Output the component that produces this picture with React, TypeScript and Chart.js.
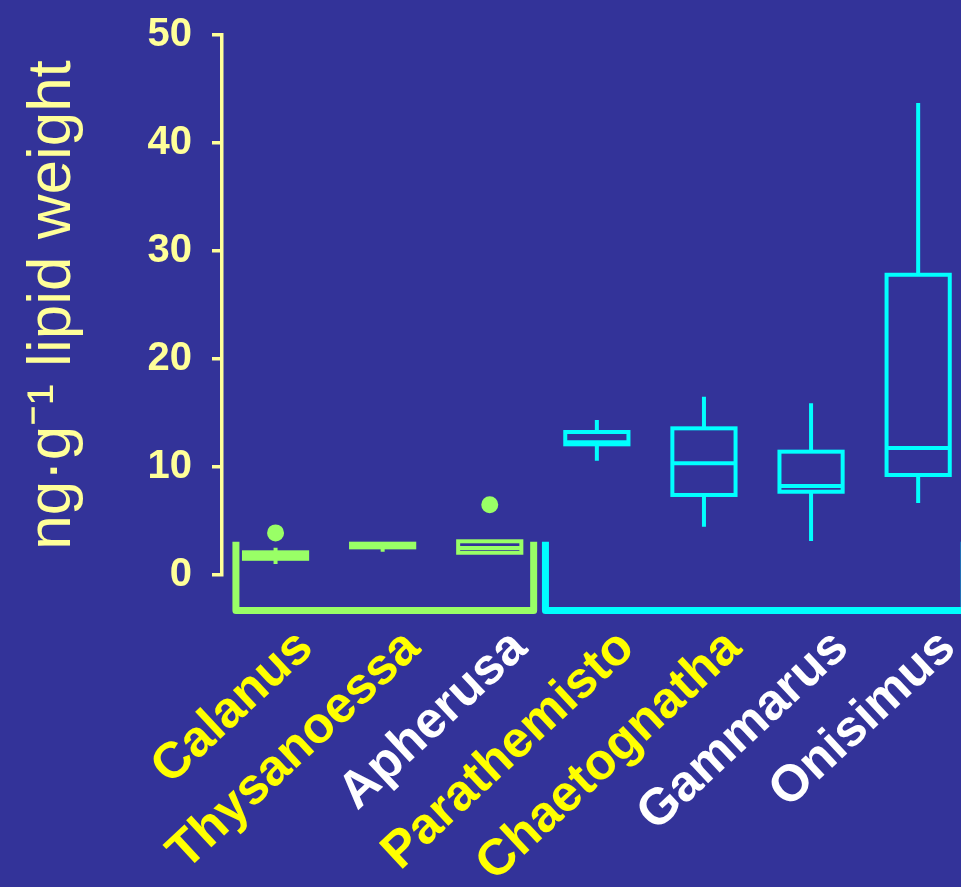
import React, { useEffect, useRef } from "react";
import { Chart, registerables } from "chart.js";

Chart.register(...registerables);

// ---- data ----
const categories = ["Calanus", "Thysanoessa", "Apherusa", "Parathemisto", "Chaetognatha", "Gammarus", "Onisimus"];
const whiskerMin = [1.02, 2.16, 2.0, 10.58, 4.47, 3.15, 6.67];
const q1 = [1.5, 2.56, 2.06, 12.1, 7.41, 7.71, 9.26];
const median = [1.8, 2.75, 2.5, 12.29, 10.34, 8.24, 11.76];
const q3 = [2.1, 2.9, 3.12, 13.24, 13.58, 11.42, 27.8];
const whiskerMax = [2.53, 3.0, 3.2, 14.35, 16.5, 15.9, 43.7];
const outlierCategory = [1, 3];
const outlierValue = [3.9, 6.5];
const yTicks = [0, 10, 20, 30, 40, 50];
const groupOf = [0, 0, 0, 1, 1, 1, 1];
// group brackets (in category units / value units)
const groupStart = [0.63, 3.52];
const groupEnd = [3.41, 7.43];
const bracketTop = 3.08;
const bracketBottom = -3.29;

// ---- styles ----
const BG = "#333399";
const AXIS = "#FFFF99";
const groupColors = ["#99FF66", "#00FFFF"];
const labelColors = ["#FFFF00", "#FFFF00", "#FFFFFF", "#FFFF00", "#FFFF00", "#FFFFFF", "#FFFFFF"];
const FONT = "'Liberation Sans', Arial, sans-serif";
const BOX_HALF = 0.295;

const boxPlugin = {
  id: "boxplots",
  afterDatasetsDraw(chart: any) {
    const { ctx, scales } = chart;
    const x = scales.x;
    const y = scales.y;
    ctx.save();
    ctx.lineCap = "butt";
    ctx.lineJoin = "miter";
    ctx.lineWidth = 4;
    categories.forEach((_, i) => {
      const v = i + 1;
      const xc = x.getPixelForValue(v);
      const xl = x.getPixelForValue(v - BOX_HALF);
      const xr = x.getPixelForValue(v + BOX_HALF);
      const pMin = y.getPixelForValue(whiskerMin[i]);
      const pQ1 = y.getPixelForValue(q1[i]);
      const pMed = y.getPixelForValue(median[i]);
      const pQ3 = y.getPixelForValue(q3[i]);
      const pMax = y.getPixelForValue(whiskerMax[i]);
      ctx.strokeStyle = groupColors[groupOf[i]];
      ctx.beginPath();
      ctx.moveTo(xc, pMax);
      ctx.lineTo(xc, pQ3);
      ctx.moveTo(xc, pQ1);
      ctx.lineTo(xc, pMin);
      ctx.stroke();
      ctx.strokeRect(xl, pQ3, xr - xl, pQ1 - pQ3);
      ctx.beginPath();
      ctx.moveTo(xl, pMed);
      ctx.lineTo(xr, pMed);
      ctx.stroke();
    });
    // group brackets
    ctx.lineWidth = 7;
    ctx.lineJoin = "round";
    ctx.lineCap = "butt";
    groupStart.forEach((s, g) => {
      const xl = x.getPixelForValue(s);
      const xr = x.getPixelForValue(groupEnd[g]);
      const yt = y.getPixelForValue(bracketTop);
      const yb = y.getPixelForValue(bracketBottom);
      ctx.strokeStyle = groupColors[g];
      ctx.beginPath();
      ctx.moveTo(xl, yt);
      ctx.lineTo(xl, yb);
      ctx.lineTo(xr, yb);
      ctx.lineTo(xr, yt);
      ctx.stroke();
    });
    ctx.restore();
  },
};

export default function App() {
  const canvasRef = useRef<HTMLCanvasElement | null>(null);

  useEffect(() => {
    if (!canvasRef.current) return;
    const chart = new Chart(canvasRef.current, {
      type: "scatter",
      data: {
        datasets: [
          {
            data: outlierCategory.map((c, i) => ({ x: c, y: outlierValue[i] })),
            pointRadius: 8.5,
            pointBackgroundColor: groupColors[0],
            pointBorderWidth: 0,
            pointHoverRadius: 8.5,
          },
        ],
      },
      plugins: [boxPlugin],
      options: {
        responsive: false,
        animation: false,
        events: [],
        layout: { autoPadding: false, padding: { top: 35, left: 0, right: 0, bottom: 0 } },
        plugins: { legend: { display: false }, tooltip: { enabled: false } },
        scales: {
          x: {
            type: "linear",
            min: 0.5,
            max: 7.4,
            afterBuildTicks: (s: any) => {
              s.ticks = categories.map((_, i) => ({ value: i + 1 }));
            },
            afterFit: (s: any) => {
              s.height = 312;
              s.paddingLeft = 0;
              s.paddingRight = 0;
              s.paddingTop = 0;
              s.paddingBottom = 0;
            },
            grid: { display: false },
            border: { display: false },
            ticks: {
              autoSkip: false,
              minRotation: 43,
              maxRotation: 43,
              padding: 33,
              labelOffset: 30,
              font: { family: FONT, size: 51, weight: "bold", lineHeight: 1.3 },
              color: (c: any) => labelColors[c.index] || "#FFFFFF",
              callback: (val: any) => categories[Math.round(Number(val)) - 1] ?? "",
            },
          },
          y: {
            type: "linear",
            min: 0,
            max: 50,
            afterBuildTicks: (s: any) => {
              s.ticks = yTicks.map((v) => ({ value: v }));
            },
            afterFit: (s: any) => {
              s.width = 222;
              s.paddingTop = 0;
              s.paddingBottom = 0;
              s.paddingLeft = 0;
              s.paddingRight = 0;
            },
            grid: {
              drawOnChartArea: false,
              drawTicks: true,
              tickLength: 10,
              color: AXIS,
              lineWidth: 3.5,
            },
            border: { display: true, color: AXIS, width: 3.5 },
            ticks: {
              padding: 20,
              color: AXIS,
              font: { family: FONT, size: 40, weight: "bold" },
            },
            title: {
              display: true,
              text: "ng·g⁻¹ lipid weight",
              color: AXIS,
              font: { family: FONT, size: 62, weight: "normal", lineHeight: 1 },
              padding: { top: 22, bottom: 0 },
            },
          },
        },
      },
    });
    return () => chart.destroy();
  }, []);

  return (
    <div
      style={{
        position: "fixed",
        left: 0,
        top: 0,
        width: 961,
        height: 887,
        background: BG,
        overflow: "hidden",
      }}
    >
      <canvas ref={canvasRef} width={961} height={887} style={{ display: "block" }} />
    </div>
  );
}
